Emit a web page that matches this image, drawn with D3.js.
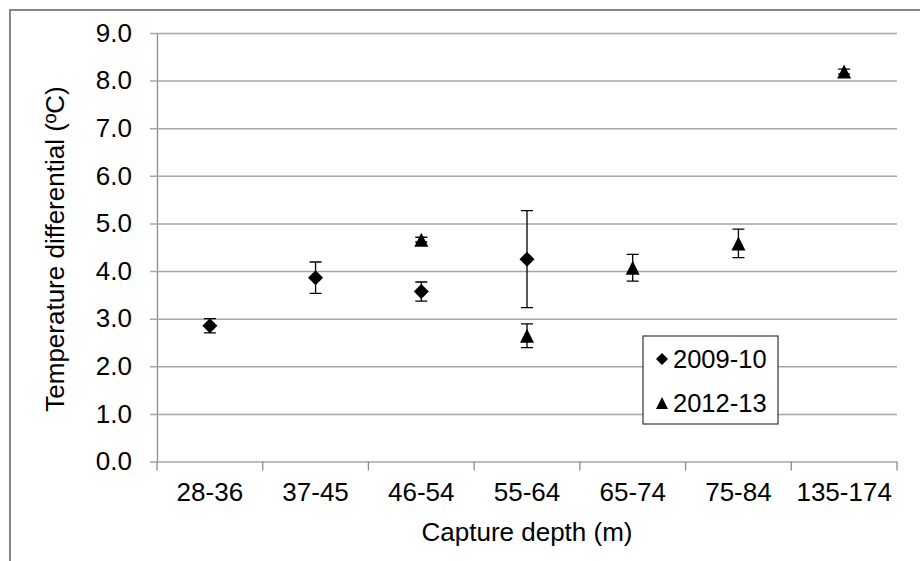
<!DOCTYPE html>
<html>
<head>
<meta charset="utf-8">
<script src="https://cdn.jsdelivr.net/npm/d3@7/dist/d3.min.js"></script>
<style>
    body { margin: 0; background: #fff; }
    svg { display: block; font-family: "Liberation Sans", Arial, sans-serif; }
</style>
</head>
<body>
<div id="chart"></div>
<script>
const categories = ['28-36', '37-45', '46-54', '55-64', '65-74', '75-84', '135-174'];
const values2009 = [2.85, 3.86, 3.57, 4.25, null, null, null];
const errors2009 = [0.15, 0.33, 0.20, 1.02, null, null, null];
const values2012 = [null, null, 4.66, 2.64, 4.07, 4.58, 8.19];
const errors2012 = [null, null, 0.05, 0.25, 0.28, 0.30, 0.05];
const yTicks = [0, 1, 2, 3, 4, 5, 6, 7, 8, 9];
const seriesNames = ['2009-10', '2012-13'];

const width = 920, height = 561;
const margin = { left: 157, right: 23, top: 33, bottom: 99.5 };

const svg = d3.select('#chart')
    .append('svg')
    .attr('width', width)
    .attr('height', height);

// outer chart border (cropped at right/bottom)
svg.append('rect')
    .attr('x', 10).attr('y', 10)
    .attr('width', width).attr('height', height)
    .attr('fill', '#fff')
    .attr('stroke', '#878787')
    .attr('stroke-width', 2);

const x = d3.scaleBand()
    .domain(categories)
    .range([margin.left, width - margin.right]);

const y = d3.scaleLinear()
    .domain([0, 9])
    .range([height - margin.bottom, margin.top]);

const plotW = width - margin.right - margin.left;

// y axis with gridlines
const yAxis = svg.append('g')
    .attr('transform', `translate(${margin.left},0)`)
    .call(d3.axisLeft(y)
        .tickValues(yTicks)
        .tickFormat(d3.format('.1f'))
        .tickSizeInner(-plotW)
        .tickSizeOuter(0)
        .tickPadding(25));

yAxis.select('.domain').attr('stroke', '#8c8c8c').attr('stroke-width', 1.3);
yAxis.selectAll('.tick line')
    .attr('x1', -7)
    .attr('stroke', '#a6a6a6')
    .attr('stroke-width', 1.5);
yAxis.selectAll('.tick text')
    .attr('font-size', 26)
    .attr('fill', '#000');

// x axis labels
const xAxis = svg.append('g')
    .attr('transform', `translate(0,${y(0)})`)
    .call(d3.axisBottom(x).tickSize(0).tickPadding(21));

xAxis.select('.domain').remove();
xAxis.selectAll('.tick text')
    .attr('font-size', 26)
    .attr('fill', '#000');

// x ticks between categories
const boundaries = categories.map(c => x(c)).concat([x.range()[1]]);
svg.append('g')
    .selectAll('line')
    .data(boundaries)
    .join('line')
    .attr('x1', d => d).attr('x2', d => d)
    .attr('y1', y(0)).attr('y2', y(0) + 9)
    .attr('stroke', '#8c8c8c')
    .attr('stroke-width', 1.3);

// axis titles
svg.append('text')
    .attr('x', (x.range()[0] + x.range()[1]) / 2)
    .attr('y', 541)
    .attr('text-anchor', 'middle')
    .attr('font-size', 26)
    .text('Capture depth (m)');

svg.append('text')
    .attr('transform', 'translate(64,249) rotate(-90)')
    .attr('text-anchor', 'middle')
    .attr('font-size', 26)
    .text('Temperature differential (ºC)');

// marker shapes
const diamond = {
    draw(ctx, size) {
        const r = Math.sqrt(size) / 2;
        ctx.moveTo(0, -r); ctx.lineTo(r, 0); ctx.lineTo(0, r); ctx.lineTo(-r, 0); ctx.closePath();
    }
};
const triangle = {
    draw(ctx, size) {
        const r = Math.sqrt(size) / 2;
        ctx.moveTo(0, -r); ctx.lineTo(r, r); ctx.lineTo(-r, r); ctx.closePath();
    }
};

const series = [
    { name: seriesNames[0], values: values2009, errors: errors2009, shape: diamond, size: 15 * 15 },
    { name: seriesNames[1], values: values2012, errors: errors2012, shape: triangle, size: 14 * 14 }
];

const capW = 6;
series.forEach(s => {
    const pts = categories
        .map((c, i) => ({ c, v: s.values[i], e: s.errors[i] }))
        .filter(d => d.v != null);

    const g = svg.append('g');
    const cx = d => x(d.c) + x.bandwidth() / 2;

    // error bars
    g.selectAll('.err')
        .data(pts)
        .join('path')
        .attr('d', d => {
            const top = y(d.v + d.e), bot = y(d.v - d.e), px = cx(d);
            return `M${px},${top}V${bot}M${px - capW},${top}H${px + capW}M${px - capW},${bot}H${px + capW}`;
        })
        .attr('stroke', '#000')
        .attr('stroke-width', 1.3)
        .attr('fill', 'none');

    g.selectAll('.mark')
        .data(pts)
        .join('path')
        .attr('transform', d => `translate(${cx(d)},${y(d.v)})`)
        .attr('d', d3.symbol().type(s.shape).size(s.size))
        .attr('fill', '#000');
});

// legend
const legend = svg.append('g').attr('transform', 'translate(643,336)');
legend.append('rect')
    .attr('width', 135).attr('height', 88)
    .attr('fill', '#fff')
    .attr('stroke', '#333')
    .attr('stroke-width', 1.2);

series.forEach((s, i) => {
    const ly = 23 + i * 44;
    legend.append('path')
        .attr('transform', `translate(19,${ly})`)
        .attr('d', d3.symbol().type(s.shape).size(12 * 12))
        .attr('fill', '#000');
    legend.append('text')
        .attr('x', 30)
        .attr('y', ly + 8.5)
        .attr('font-size', 25.5)
        .text(s.name);
});
</script>
</body>
</html>
